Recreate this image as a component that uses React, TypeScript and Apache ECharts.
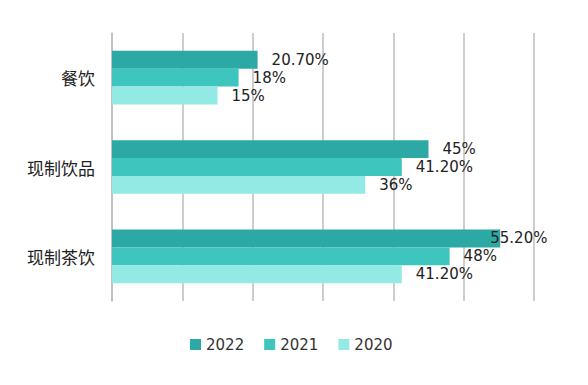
import React, { useEffect, useRef } from "react";
import * as echarts from "echarts";

const categories = ["餐饮", "现制饮品", "现制茶饮"];
const seriesNames = ["2022", "2021", "2020"];
const values2022 = [20.7, 45, 55.2];
const values2021 = [18, 41.2, 48];
const values2020 = [15, 36, 41.2];
const colors = ["#2DA9A5", "#3DC5BE", "#93EAE4"];

function fmt(v: number): string {
  return Number.isInteger(v) ? `${v}%` : `${v.toFixed(2)}%`;
}

export default function App() {
  const ref = useRef<HTMLDivElement>(null);
  useEffect(() => {
    if (!ref.current) return;
    const chart = echarts.init(ref.current, null, { renderer: "svg" });
    const all = [values2022, values2021, values2020];
    chart.setOption({
      animation: false,
      backgroundColor: "#ffffff",
      textStyle: { fontFamily: "DejaVu Sans" },
      grid: { left: 112, right: 54, top: 33, bottom: 84, containLabel: false },
      legend: {
        bottom: 28,
        left: 185,
        itemWidth: 11,
        itemHeight: 11,
        itemGap: 20,
        icon: "rect",
        textStyle: { fontSize: 15, color: "#333", fontFamily: "DejaVu Sans" },
        data: seriesNames,
      },
      xAxis: {
        type: "value",
        min: 0,
        max: 60,
        interval: 10,
        axisLabel: { show: false },
        axisLine: { show: false },
        axisTick: { show: false },
        splitLine: { show: true, lineStyle: { color: "#BDBDBD", width: 1.5 } },
      },
      yAxis: {
        type: "category",
        inverse: true,
        data: categories,
        axisLine: { show: true, lineStyle: { color: "#BDBDBD", width: 1.5 } },
        axisTick: { show: false },
        axisLabel: { fontSize: 17, color: "#222", margin: 17, fontFamily: "Noto Sans CJK SC" },
      },
      series: seriesNames.map((name, si) => ({
        name,
        type: "bar",
        barGap: "0%",
        barCategoryGap: "40%",
        itemStyle: { color: colors[si] },
        label: {
          show: true,
          position: "right",
          distance: 14,
          fontSize: 15,
          lineHeight: 16,
          color: "#222",
          fontFamily: "DejaVu Sans",
          formatter: (p: any) => fmt(p.value),
        },
        data: all[si].map((v, ci) =>
          si === 0 && ci === 2
            ? { value: v, label: { offset: [-24, 0] } }
            : v
        ),
      })),
    });
    return () => chart.dispose();
  }, []);
  return (
    <div
      ref={ref}
      style={{ position: "fixed", left: 0, top: 0, width: 588, height: 385 }}
    />
  );
}
